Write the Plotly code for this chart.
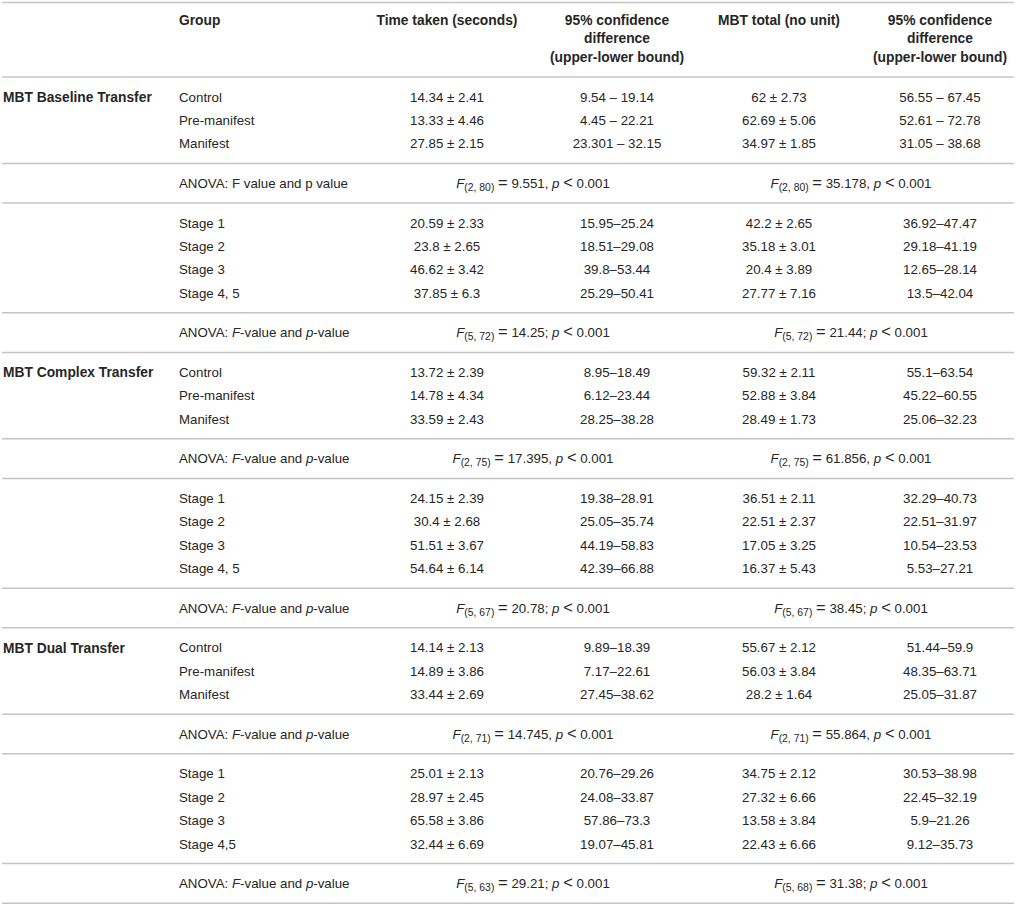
import plotly.graph_objects as go

W, H = 1016, 904

# ---------------- data ----------------
headers_single = ["Group", "Time taken (seconds)", "MBT total (no unit)"]
headers_ci = ["95% confidence", "difference", "(upper-lower bound)"]

sections = ["MBT Baseline Transfer", "MBT Complex Transfer", "MBT Dual Transfer"]
group_labels = ["Control", "Pre-manifest", "Manifest"]
stage_labels_a = ["Stage 1", "Stage 2", "Stage 3", "Stage 4, 5"]
stage_labels_b = ["Stage 1", "Stage 2", "Stage 3", "Stage 4,5"]

anova_label_plain = "ANOVA: F value and p value"
anova_label_ital = "ANOVA: <i>F</i>-value and <i>p</i>-value"

# MBT Baseline Transfer
baseline_group_time = ["14.34 ± 2.41", "13.33 ± 4.46", "27.85 ± 2.15"]
baseline_group_time_ci = ["9.54 – 19.14", "4.45 – 22.21", "23.301 – 32.15"]
baseline_group_mbt = ["62 ± 2.73", "62.69 ± 5.06", "34.97 ± 1.85"]
baseline_group_mbt_ci = ["56.55 – 67.45", "52.61 – 72.78", "31.05 – 38.68"]
baseline_group_anova_time = ("2, 80", "9.551", ",")
baseline_group_anova_mbt = ("2, 80", "35.178", ",")
baseline_stage_time = ["20.59 ± 2.33", "23.8 ± 2.65", "46.62 ± 3.42", "37.85 ± 6.3"]
baseline_stage_time_ci = ["15.95–25.24", "18.51–29.08", "39.8–53.44", "25.29–50.41"]
baseline_stage_mbt = ["42.2 ± 2.65", "35.18 ± 3.01", "20.4 ± 3.89", "27.77 ± 7.16"]
baseline_stage_mbt_ci = ["36.92–47.47", "29.18–41.19", "12.65–28.14", "13.5–42.04"]
baseline_stage_anova_time = ("5, 72", "14.25", ";")
baseline_stage_anova_mbt = ("5, 72", "21.44", ";")

# MBT Complex Transfer
complex_group_time = ["13.72 ± 2.39", "14.78 ± 4.34", "33.59 ± 2.43"]
complex_group_time_ci = ["8.95–18.49", "6.12–23.44", "28.25–38.28"]
complex_group_mbt = ["59.32 ± 2.11", "52.88 ± 3.84", "28.49 ± 1.73"]
complex_group_mbt_ci = ["55.1–63.54", "45.22–60.55", "25.06–32.23"]
complex_group_anova_time = ("2, 75", "17.395", ",")
complex_group_anova_mbt = ("2, 75", "61.856", ",")
complex_stage_time = ["24.15 ± 2.39", "30.4 ± 2.68", "51.51 ± 3.67", "54.64 ± 6.14"]
complex_stage_time_ci = ["19.38–28.91", "25.05–35.74", "44.19–58.83", "42.39–66.88"]
complex_stage_mbt = ["36.51 ± 2.11", "22.51 ± 2.37", "17.05 ± 3.25", "16.37 ± 5.43"]
complex_stage_mbt_ci = ["32.29–40.73", "22.51–31.97", "10.54–23.53", "5.53–27.21"]
complex_stage_anova_time = ("5, 67", "20.78", ";")
complex_stage_anova_mbt = ("5, 67", "38.45", ";")

# MBT Dual Transfer
dual_group_time = ["14.14 ± 2.13", "14.89 ± 3.86", "33.44 ± 2.69"]
dual_group_time_ci = ["9.89–18.39", "7.17–22.61", "27.45–38.62"]
dual_group_mbt = ["55.67 ± 2.12", "56.03 ± 3.84", "28.2 ± 1.64"]
dual_group_mbt_ci = ["51.44–59.9", "48.35–63.71", "25.05–31.87"]
dual_group_anova_time = ("2, 71", "14.745", ",")
dual_group_anova_mbt = ("2, 71", "55.864", ",")
dual_stage_time = ["25.01 ± 2.13", "28.97 ± 2.45", "65.58 ± 3.86", "32.44 ± 6.69"]
dual_stage_time_ci = ["20.76–29.26", "24.08–33.87", "57.86–73.3", "19.07–45.81"]
dual_stage_mbt = ["34.75 ± 2.12", "27.32 ± 6.66", "13.58 ± 3.84", "22.43 ± 6.66"]
dual_stage_mbt_ci = ["30.53–38.98", "22.45–32.19", "5.9–21.26", "9.12–35.73"]
dual_stage_anova_time = ("5, 63", "29.21", ";")
dual_stage_anova_mbt = ("5, 68", "31.38", ";")

# ---------------- layout constants ----------------
FONT = "Liberation Sans, Arial, Helvetica, sans-serif"
FS = 13.3
FSB = 13.8
FS_SUB = 10.4
FS_OP = 16.5
TXT = "#262626"
LINE = "#c4c4c4"

X_SECTION = 3
X_GROUP = 179
X_TIME = 447
X_TIME_CI = 617
X_MBT = 779
X_MBT_CI = 940
X_ANOVA_TIME = 533
X_ANOVA_MBT = 851

TOP_LINE = 2.5
HEADER_Y0 = 20
HEADER_STEP = 18.5
HEADER_LINE = 77
PITCH = 23.4
GAP = 19.8
TEXT_DY = 1.5


def op(sym):
    return f"<span style=\"font-size:{FS_OP}px\">{sym}</span>"


def f_text(spec):
    df, val, sep = spec
    return (f"<i>F</i><sub><span style=\"font-size:{FS_SUB}px\">({df})</span></sub>"
            f" {op('=')} {val}{sep} <i>p</i> {op('&lt;')} 0.001")


blocks = [
    ("rows", sections[0], group_labels, baseline_group_time, baseline_group_time_ci,
     baseline_group_mbt, baseline_group_mbt_ci),
    ("anova", anova_label_plain, baseline_group_anova_time, baseline_group_anova_mbt),
    ("rows", None, stage_labels_a, baseline_stage_time, baseline_stage_time_ci,
     baseline_stage_mbt, baseline_stage_mbt_ci),
    ("anova", anova_label_ital, baseline_stage_anova_time, baseline_stage_anova_mbt),
    ("rows", sections[1], group_labels, complex_group_time, complex_group_time_ci,
     complex_group_mbt, complex_group_mbt_ci),
    ("anova", anova_label_ital, complex_group_anova_time, complex_group_anova_mbt),
    ("rows", None, stage_labels_a, complex_stage_time, complex_stage_time_ci,
     complex_stage_mbt, complex_stage_mbt_ci),
    ("anova", anova_label_ital, complex_stage_anova_time, complex_stage_anova_mbt),
    ("rows", sections[2], group_labels, dual_group_time, dual_group_time_ci,
     dual_group_mbt, dual_group_mbt_ci),
    ("anova", anova_label_ital, dual_group_anova_time, dual_group_anova_mbt),
    ("rows", None, stage_labels_b, dual_stage_time, dual_stage_time_ci,
     dual_stage_mbt, dual_stage_mbt_ci),
    ("anova", anova_label_ital, dual_stage_anova_time, dual_stage_anova_mbt),
]

left = {"x": [], "y": [], "t": []}
bold_left = {"x": [], "y": [], "t": []}
center = {"x": [], "y": [], "t": []}
lines_y = [TOP_LINE, HEADER_LINE]

y_line = HEADER_LINE
for b in blocks:
    y = y_line + GAP
    if b[0] == "rows":
        _, sec, labels, c1, c2, c3, c4 = b
        if sec:
            bold_left["x"].append(X_SECTION); bold_left["y"].append(y + TEXT_DY); bold_left["t"].append(sec)
        for i, lab in enumerate(labels):
            yy = y + i * PITCH + TEXT_DY
            left["x"].append(X_GROUP); left["y"].append(yy); left["t"].append(lab)
            for xc, col in ((X_TIME, c1), (X_TIME_CI, c2), (X_MBT, c3), (X_MBT_CI, c4)):
                center["x"].append(xc); center["y"].append(yy); center["t"].append(col[i])
        last = y + (len(labels) - 1) * PITCH
    else:
        _, lab, ft, fm = b
        yy = y + TEXT_DY
        left["x"].append(X_GROUP); left["y"].append(yy); left["t"].append(lab)
        center["x"].append(X_ANOVA_TIME); center["y"].append(yy); center["t"].append(f_text(ft))
        center["x"].append(X_ANOVA_MBT); center["y"].append(yy); center["t"].append(f_text(fm))
        last = y
    y_line = last + GAP
    lines_y.append(y_line)

fig = go.Figure()

font = dict(family=FONT, size=FS, color=TXT)
bfont = dict(family=FONT, size=FSB, color=TXT, weight="bold")

fig.add_trace(go.Scatter(x=left["x"], y=left["y"], text=left["t"], mode="text",
                         textposition="middle right", textfont=font, hoverinfo="skip"))
fig.add_trace(go.Scatter(x=bold_left["x"], y=bold_left["y"], text=bold_left["t"], mode="text",
                         textposition="middle right", textfont=bfont, hoverinfo="skip"))
fig.add_trace(go.Scatter(x=center["x"], y=center["y"], text=center["t"], mode="text",
                         textposition="middle center", textfont=font, hoverinfo="skip"))

# header
hy0 = HEADER_Y0 + TEXT_DY
fig.add_trace(go.Scatter(x=[X_GROUP], y=[hy0], text=[headers_single[0]], mode="text",
                         textposition="middle right", textfont=bfont, hoverinfo="skip"))
fig.add_trace(go.Scatter(x=[X_TIME, X_MBT], y=[hy0, hy0],
                         text=[headers_single[1], headers_single[2]], mode="text",
                         textposition="middle center", textfont=bfont, hoverinfo="skip"))
hx, hy, ht = [], [], []
for xc in (X_TIME_CI, X_MBT_CI):
    for k, line_txt in enumerate(headers_ci):
        hx.append(xc); hy.append(hy0 + k * HEADER_STEP); ht.append(line_txt)
fig.add_trace(go.Scatter(x=hx, y=hy, text=ht, mode="text",
                         textposition="middle center", textfont=bfont, hoverinfo="skip"))

for ly in lines_y:
    fig.add_shape(type="line", xref="x", yref="y", x0=2, x1=1014, y0=ly, y1=ly,
                  line=dict(color=LINE, width=1.5), layer="below")

fig.update_layout(
    width=W, height=H,
    margin=dict(l=0, r=0, t=0, b=0),
    paper_bgcolor="white", plot_bgcolor="white",
    showlegend=False,
    xaxis=dict(range=[0, W], visible=False, fixedrange=True),
    yaxis=dict(range=[H, 0], visible=False, fixedrange=True),
)

fig.write_html("out.html",
               config={"displayModeBar": False},
               post_script="document.body.style.margin='0';document.body.style.overflow='hidden';")
